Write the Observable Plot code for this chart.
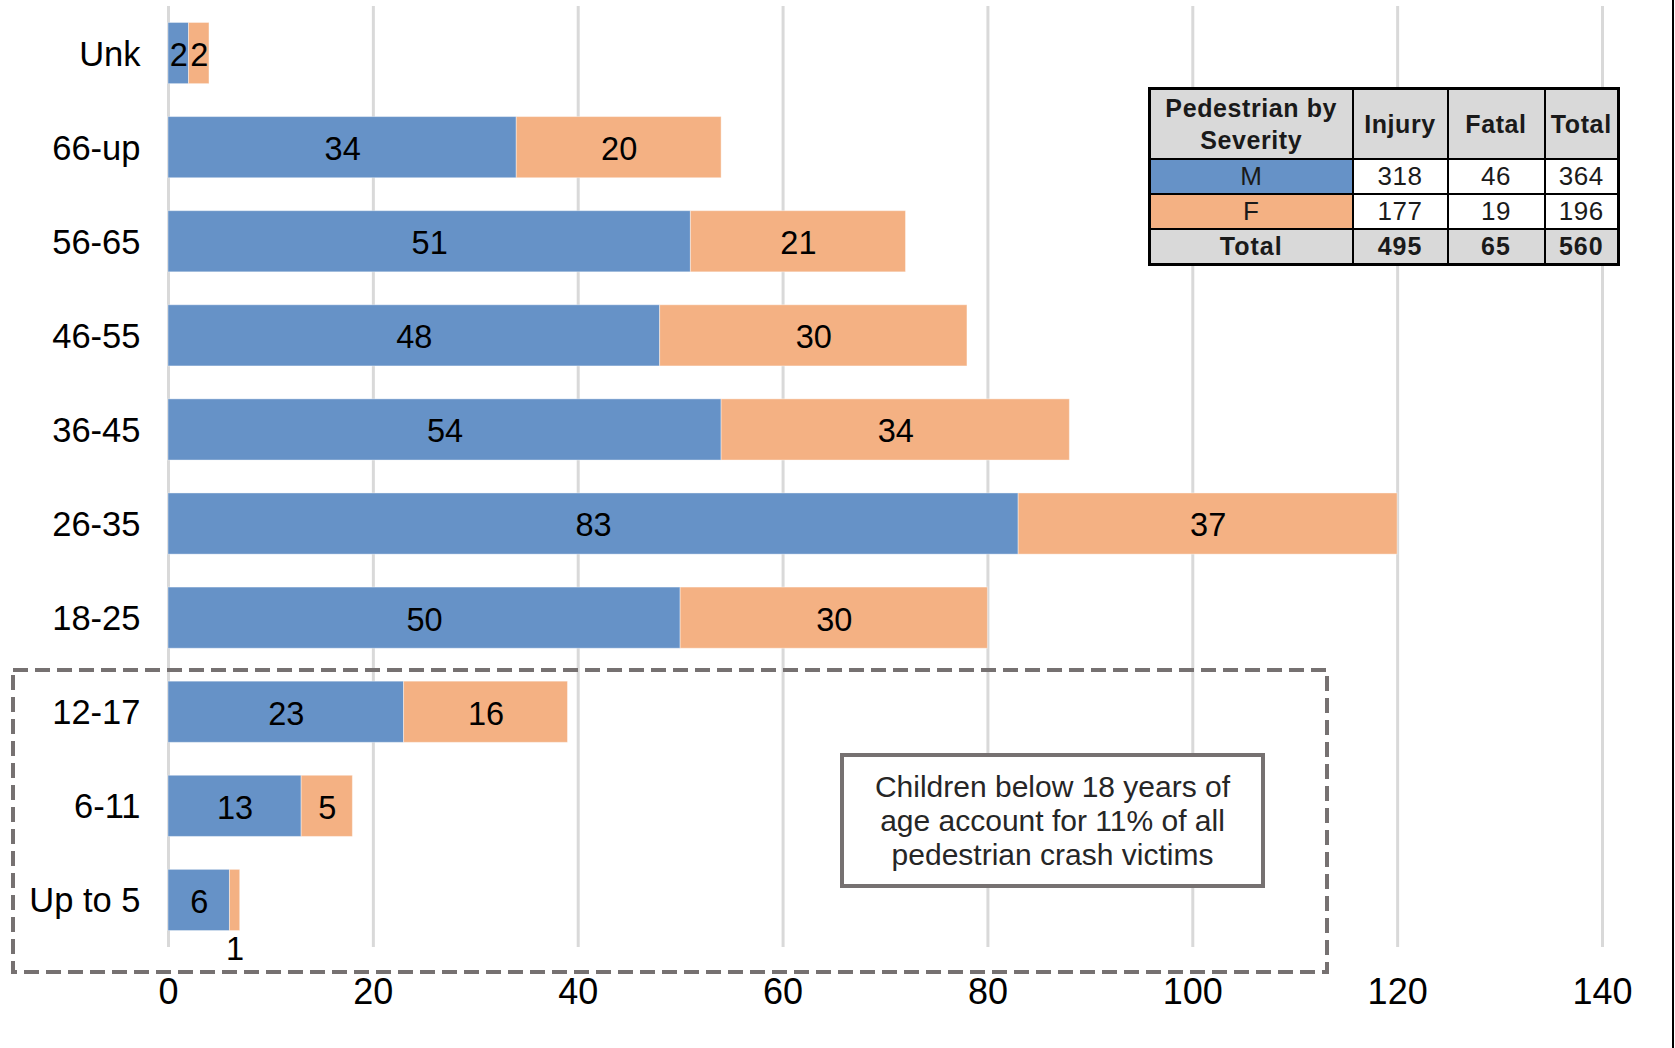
<!DOCTYPE html>
<html>
<head>
<meta charset="utf-8">
<script src="https://cdn.jsdelivr.net/npm/d3@7"></script>
<script src="https://cdn.jsdelivr.net/npm/@observablehq/plot@0.6"></script>
<style>
  body { margin: 0; background: #fff; }
  #wrap { position: relative; width: 1675px; height: 1048px; overflow: hidden; background: #fff;
          font-family: "Liberation Sans", Arial, sans-serif; }
  #chart svg { display: block; }
  #edge { position: absolute; left: 1672px; top: 0; width: 2px; height: 1048px; background: #000; }
  #overlay { position: absolute; left: 0; top: 0; pointer-events: none; }
  #note { position: absolute; left: 840px; top: 753px; width: 425px; height: 135px; box-sizing: border-box;
          border: 4px solid #767171; background: #fff; display: flex; align-items: center; justify-content: center;
          text-align: center; font-size: 30px; line-height: 34px; color: #262626; }
  #tbl { position: absolute; left: 1148px; top: 87px; width: 469px; height: 176px; border-collapse: collapse;
         border: 3px solid #000; table-layout: fixed; }
  #tbl td, #tbl th { border: 2px solid #000; padding: 0; text-align: center; color: #1a1a1a; }
  #tbl th { background: #d9d9d9; font-weight: bold; font-size: 25px; line-height: 32px; letter-spacing: 0.6px; }
  #tbl td { font-size: 26px; background: #fff; letter-spacing: 0.5px; }
  #tbl tr.tot td { background: #d9d9d9; font-weight: bold; font-size: 25px; letter-spacing: 1px; }
</style>
</head>
<body>
<div id="wrap">
  <div id="chart"></div>
  <svg id="overlay" width="1675" height="1048">
    <rect x="13" y="670" width="1314" height="302" fill="none" stroke="#767171" stroke-width="4" stroke-dasharray="15 7"></rect>
  </svg>
  <div id="note"><div>Children below 18 years of<br>age account for 11% of all<br>pedestrian crash victims</div></div>
  <table id="tbl"></table>
  <div id="edge"></div>
</div>
<script>
// ---- data ----
const ages   = ["Unk", "66-up", "56-65", "46-55", "36-45", "26-35", "18-25", "12-17", "6-11", "Up to 5"];
const male   = [2, 34, 51, 48, 54, 83, 50, 23, 13, 6];
const female = [2, 20, 21, 30, 34, 37, 30, 16, 5, 1];
const xTicks = [0, 20, 40, 60, 80, 100, 120, 140];

const tableSexes  = ["M", "F"];
const tableInjury = [318, 177];
const tableFatal  = [46, 19];
const tableHeader = ["Pedestrian by<br>Severity", "Injury", "Fatal", "Total"];

const colors = {M: "#6692c7", F: "#f4b183"};

// ---- segments ----
const segs = [];
ages.forEach((a, i) => {
  segs.push({age: a, sex: "M", value: male[i], x1: 0, x2: male[i]});
  segs.push({age: a, sex: "F", value: female[i], x1: male[i], x2: male[i] + female[i]});
});

const chart = Plot.plot({
  width: 1675,
  height: 1048,
  marginLeft: 168,
  marginRight: 73,
  marginTop: 6,
  marginBottom: 101,
  style: {fontFamily: "'Liberation Sans', Arial, sans-serif", color: "#000", background: "#fff"},
  x: {domain: [0, 140]},
  y: {domain: ages, paddingInner: 0.35, paddingOuter: 0.175, round: false},
  marks: [
    Plot.gridX({ticks: xTicks, stroke: "#d9d9d9", strokeWidth: 3, strokeOpacity: 1}),
    Plot.barX(segs, {x1: "x1", x2: "x2", y: "age", fill: d => colors[d.sex], stroke: "#ffffff", strokeWidth: 1, strokeOpacity: 0.4}),
    Plot.text(segs.filter(d => d.value >= 2), {x: d => (d.x1 + d.x2) / 2, y: "age", text: d => String(d.value), fontSize: 32.5, fill: "#000", dy: 2}),
    Plot.text(segs.filter(d => d.value < 2), {x: d => (d.x1 + d.x2) / 2, y: "age", text: d => String(d.value), fontSize: 32.5, fill: "#000", dy: 49}),
    Plot.axisX({ticks: xTicks, tickSize: 0, tickPadding: 31, fontSize: 36, label: null, fill: "#000"}),
    Plot.axisY({tickSize: 0, tickPadding: 28, fontSize: 34.5, label: null, fill: "#000", dy: 1})
  ]
});
document.getElementById("chart").appendChild(chart);

// ---- table ----
const tbl = document.getElementById("tbl");
const colW = [203, 95, 97, 74];
let html = "<colgroup>" + colW.map(w => `<col style="width:${w}px">`).join("") + "</colgroup>";
html += `<tr style="height:70px">` + tableHeader.map(h => `<th>${h}</th>`).join("") + "</tr>";
tableSexes.forEach((s, i) => {
  html += `<tr style="height:35px"><td style="background:${colors[s]}">${s}</td><td>${tableInjury[i]}</td><td>${tableFatal[i]}</td><td>${tableInjury[i] + tableFatal[i]}</td></tr>`;
});
const ti = d3.sum(tableInjury), tf = d3.sum(tableFatal);
html += `<tr class="tot" style="height:36px"><td>Total</td><td>${ti}</td><td>${tf}</td><td>${ti + tf}</td></tr>`;
tbl.innerHTML = html;
</script>
</body>
</html>
